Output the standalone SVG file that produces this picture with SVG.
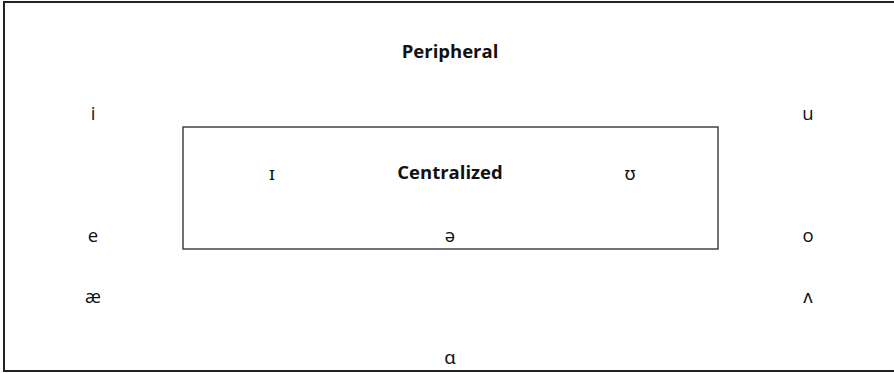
<svg xmlns="http://www.w3.org/2000/svg" width="894" height="373" viewBox="0 0 894 373">
<style>
.t{font-family:"Open Sans","Noto Sans","Liberation Sans",sans-serif;font-size:18.5px;fill:#111;text-anchor:middle}
.b{font-weight:bold}
.frame{fill:none;stroke:#222;stroke-width:2}
.box{fill:none;stroke:#444;stroke-width:1.5}
</style>
<rect width="894" height="373" fill="#fff"/>
<g id="peripheral">
<rect class="frame" x="4" y="2" width="900" height="369"/>
<text class="t b" x="450" y="58">Peripheral</text>
</g>
<g id="centralized">
<rect class="box" x="183" y="127" width="535" height="122"/>
<text class="t b" x="450" y="179">Centralized</text>
</g>
<g id="connectors"></g>
<g id="v-i"><text class="t" x="93" y="120">i</text></g>
<g id="v-u"><text class="t" x="808" y="120">u</text></g>
<g id="v-I"><text class="t" x="272" y="180">ɪ</text></g>
<g id="v-U"><text class="t" x="630" y="180">ʊ</text></g>
<g id="v-e"><text class="t" x="93" y="242">e</text></g>
<g id="v-schwa"><text class="t" x="450" y="242">ə</text></g>
<g id="v-o"><text class="t" x="808" y="242">o</text></g>
<g id="v-ae"><text class="t" x="93" y="303">æ</text></g>
<g id="v-wedge"><text class="t" x="808" y="303">ʌ</text></g>
<g id="v-a"><text class="t" x="450" y="364">ɑ</text></g>
</svg>
